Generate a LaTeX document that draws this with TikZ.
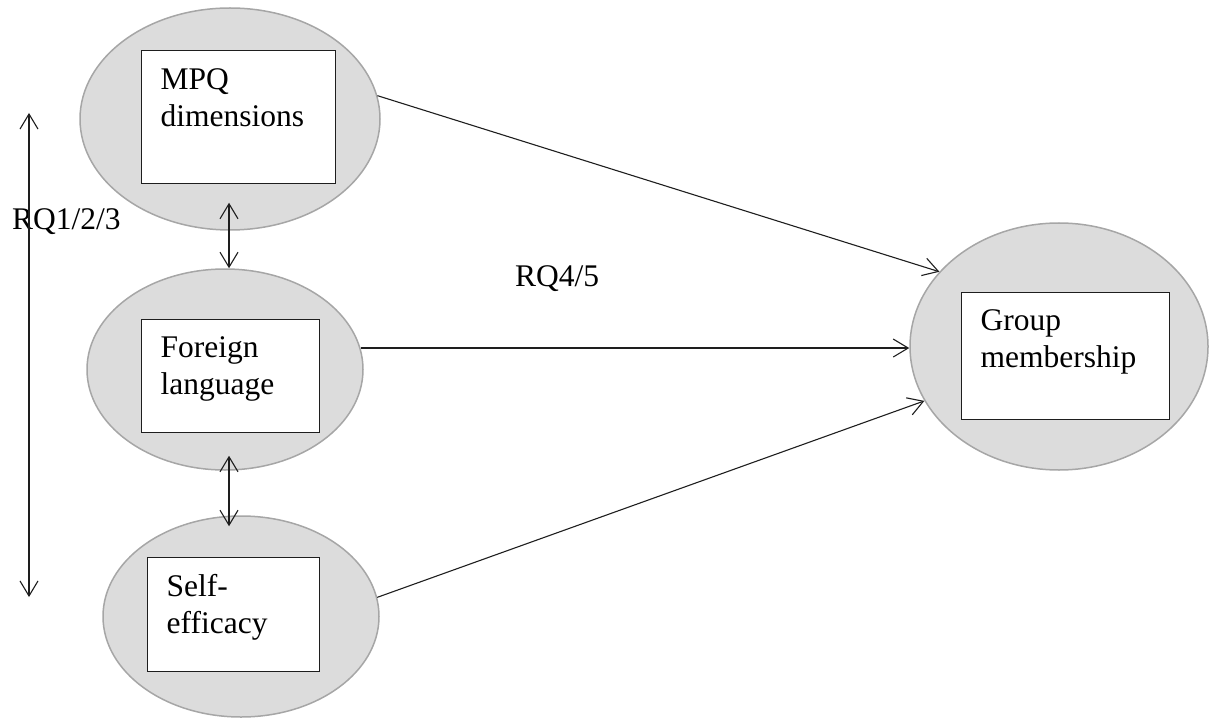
\documentclass[tikz,border=0pt]{standalone}
\usepackage{fontspec}
\setmainfont{Liberation Serif}
\usepackage{tikz}
\usetikzlibrary{shapes.geometric, arrows.meta, positioning, calc}
\definecolor{blobgray}{RGB}{220, 220, 220}
\definecolor{ringgray}{RGB}{166, 166, 166}
\definecolor{inkgray}{RGB}{30, 30, 30}

\begin{document}
\begin{tikzpicture}[x=1pt, y=-1pt,
    blob/.style={ellipse, draw=ringgray, fill=blobgray, line width=1.5pt, inner sep=0pt},
    box/.style={rectangle, draw=inkgray, fill=white, line width=1pt, inner sep=0pt},
    txt/.style={inner sep=0pt, align=left, font=\fontsize{31.5}{37}\selectfont},
    line/.style={draw=inkgray, line width=1.1pt, -{Straight Barb[length=15pt, width=18pt]}},
    both/.style={line, {Straight Barb[length=15pt, width=18pt]}-{Straight Barb[length=15pt, width=18pt]}}]

    \useasboundingbox (0,0) rectangle (1209,719);

    \node [blob, minimum width=300pt, minimum height=222pt] (mpq) at (230,119) {};
    \node [blob, minimum width=276pt, minimum height=201pt] (lang) at (225,369.5) {};
    \node [blob, minimum width=276pt, minimum height=201pt] (self) at (241,616.5) {};
    \node [blob, minimum width=298pt, minimum height=247pt] (group) at (1059,346.5) {};

    \node [box, minimum width=194pt, minimum height=133pt] (mpqbox) at (238,117.5) {};
    \node [box, minimum width=178pt, minimum height=113pt] (langbox) at (230,375.5) {};
    \node [box, minimum width=172pt, minimum height=114pt] (selfbox) at (233,614) {};
    \node [box, minimum width=208pt, minimum height=127pt] (groupbox) at (1065,355.5) {};

    \node [txt, below right=18pt and 20pt of mpqbox.north west] (mpqtxt) {MPQ\\dimensions};
    \node [txt, below right=18pt and 20pt of langbox.north west] (langtxt) {Foreign\\language};
    \node [txt, below right=18pt and 20pt of selfbox.north west] (selftxt) {Self-\\efficacy};
    \node [txt, below right=18pt and 20pt of groupbox.north west] (grouptxt) {Group\\membership};

    \node [txt, anchor=base west] (rqleft) at (12,230) {RQ1/2/3};
    \node [txt, anchor=base west] (rqmid) at (515,287) {RQ4/5};

    \coordinate (rqtop) at (29,113);
    \coordinate (rqbot) at (29,597);
    \coordinate (link) at (229,0);

    \path [line] (mpq.9) -- (group.148);
    \path [line] (lang.9) -- (lang.9 -| group.west);
    \path [line] (self.8) -- (group.202);
    \path [both] ($(link |- mpq.south)+(0,-28)$) -- (link |- lang.north);
    \path [both] ($(link |- lang.south)+(0,-15)$) -- ($(link |- self.north)+(0,11)$);
    \path [both] (rqtop) -- (rqbot);
\end{tikzpicture}
\end{document}
